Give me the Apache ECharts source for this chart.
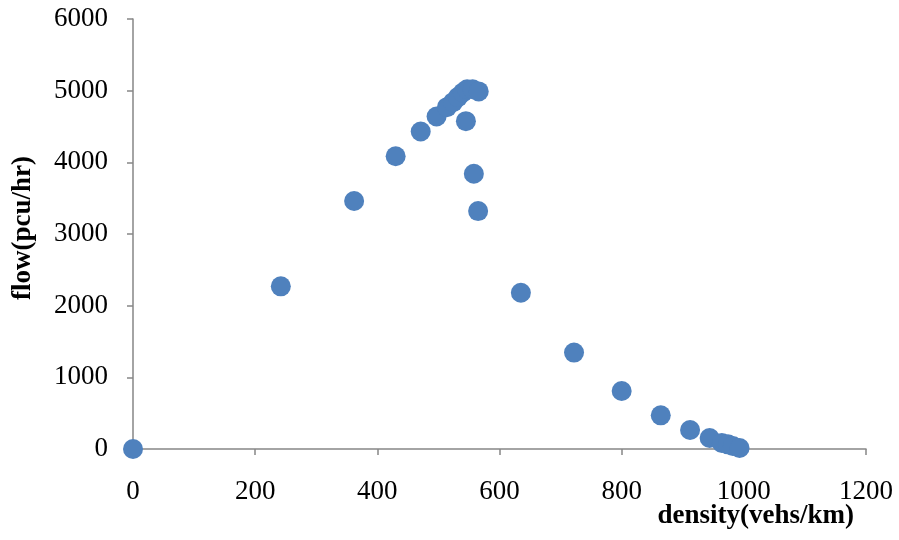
<!DOCTYPE html>
<html>
<head>
<meta charset="utf-8">
<script src="https://cdn.jsdelivr.net/npm/echarts@6/dist/echarts.min.js"></script>
<style>html,body{margin:0;padding:0;background:#fff;}#c{width:899px;height:540px;}</style>
</head>
<body>
<div id="c"></div>
<script>
const density = [0, 242, 362, 430, 471, 497, 514, 524, 532, 540, 547, 556, 566, 545, 558, 565, 635, 722, 800, 864, 912, 944, 964, 974, 982, 993];
const flow = [0, 2270, 3460, 4085, 4430, 4640, 4770, 4840, 4910, 4975, 5020, 5020, 4990, 4575, 3840, 3320, 2180, 1345, 810, 470, 265, 153, 84, 65, 42, 14];
const xTicks = [0, 200, 400, 600, 800, 1000, 1200];
const yTicks = [0, 1000, 2000, 3000, 4000, 5000, 6000];

const points = density.map((d, i) => [d, flow[i]]);
const font = '"Liberation Serif", "Times New Roman", serif';
const chart = echarts.init(document.getElementById('c'));
chart.setOption({
  animation: false,
  backgroundColor: '#fff',
  grid: {left: 133, right: 33, top: 19, bottom: 91, containLabel: false, outerBoundsMode: 'none'},
  xAxis: {
    type: 'value', min: xTicks[0], max: xTicks[xTicks.length-1], interval: 200,
    name: 'density(vehs/km)', nameLocation: 'end', nameGap: -12, nameMoveOverlap: false,
    nameTextStyle: {fontFamily: font, fontSize: 27, fontWeight: 'bold', color: '#000', align: 'right', verticalAlign: 'top', padding: [54, 0, 0, 0]},
    axisLine: {show: true, lineStyle: {color: '#868686', width: 1.5}},
    axisTick: {show: true, inside: false, length: 6, lineStyle: {color: '#868686', width: 1.5}},
    axisLabel: {fontFamily: font, fontSize: 27, color: '#000', margin: 29, formatter: v => String(v)},
    splitLine: {show: false}
  },
  yAxis: {
    type: 'value', min: yTicks[0], max: yTicks[yTicks.length-1], interval: 1000,
    name: 'flow(pcu/hr)', nameLocation: 'middle', nameGap: 96, nameMoveOverlap: false,
    nameTextStyle: {fontFamily: font, fontSize: 27, fontWeight: 'bold', color: '#000', padding: [0, 0, 0, 12]},
    axisLine: {show: true, lineStyle: {color: '#868686', width: 1.5}},
    axisTick: {show: true, inside: false, length: 6, lineStyle: {color: '#868686', width: 1.5}},
    axisLabel: {fontFamily: font, fontSize: 27, color: '#000', margin: 25, formatter: v => String(v)},
    splitLine: {show: false}
  },
  series: [{
    type: 'scatter',
    data: points,
    symbol: 'circle',
    symbolSize: 20,
    itemStyle: {color: '#4F81BD', opacity: 1}
  }]
});
</script>
</body>
</html>
